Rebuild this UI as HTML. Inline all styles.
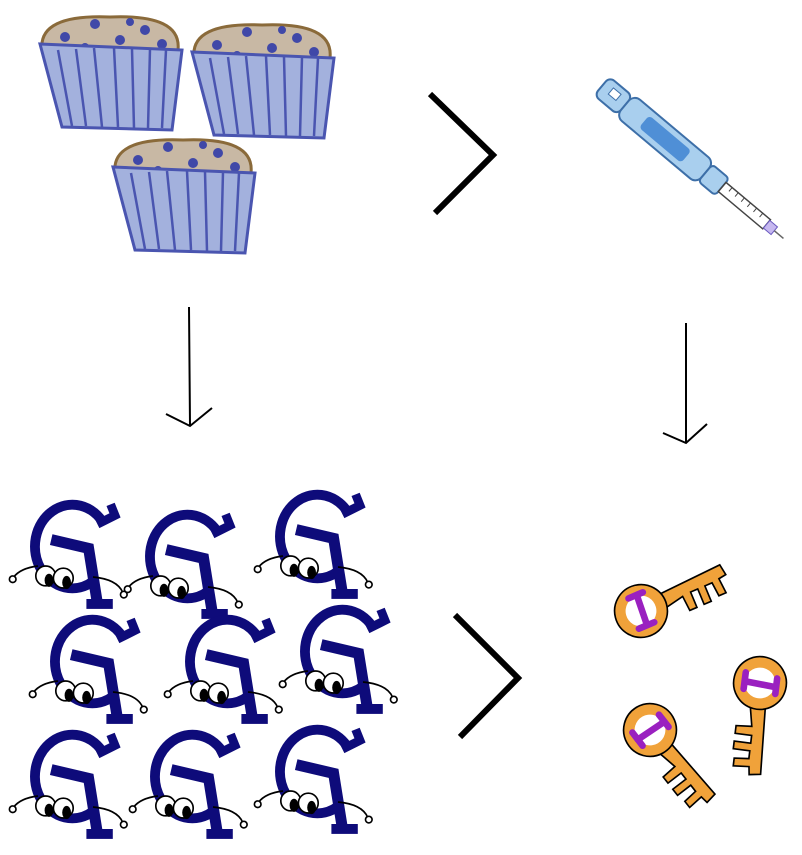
<!DOCTYPE html><html><head><style>body{margin:0;background:#fff}svg{display:block}</style></head><body>
<svg width="802" height="855" viewBox="0 0 802 855" xmlns="http://www.w3.org/2000/svg">
<defs>
<g id="muf">
<path d="M-68,-22 Q-72,-58 0,-55 Q72,-58 68,-22 Z" fill="#c8b8a4" stroke="#8a6a3a" stroke-width="3"/>
<circle cx="-45" cy="-35" r="5" fill="#4048a8"/><circle cx="-15" cy="-48" r="5" fill="#4048a8"/><circle cx="10" cy="-32" r="5" fill="#4048a8"/><circle cx="35" cy="-42" r="5" fill="#4048a8"/><circle cx="52" cy="-28" r="5" fill="#4048a8"/><circle cx="-25" cy="-25" r="4" fill="#4048a8"/><circle cx="20" cy="-50" r="4" fill="#4048a8"/>
<path d="M-70,-28 L72,-22 L62,58 L-48,55 Z" fill="#a3b1dd" stroke="#4a55b0" stroke-width="3"/>
<path d="M-52,-22 L-38,54 M-34,-23 L-24,54 M-16,-24 L-8,55 M4,-24 L8,55 M22,-23 L24,56 M40,-23 L38,56 M56,-22 L52,56" stroke="#4a55b0" stroke-width="2.5" fill="none"/>
</g>
<g id="G" transform="scale(1.1)">
<path d="M40,-28 A34 38 0 1 0 30 24" fill="none" stroke="#0e0b7a" stroke-width="9"/>
<path d="M34,-28 L50,-36 L46,-46" fill="none" stroke="#0e0b7a" stroke-width="8"/>
<path d="M-8,-14 L26,-6 L34,44" fill="none" stroke="#0e0b7a" stroke-width="10"/>
<rect x="24" y="40" width="24" height="9" fill="#0e0b7a"/>
<path d="M-20,10 Q-36,12 -42,20 M30,20 Q52,22 57,34" fill="none" stroke="#000" stroke-width="1.5"/>
<circle cx="-43" cy="22" r="3" fill="#fff" stroke="#000" stroke-width="1.5"/><circle cx="58" cy="36" r="3" fill="#fff" stroke="#000" stroke-width="1.5"/>
<ellipse cx="-13" cy="19" rx="9" ry="9" fill="#fff" stroke="#000" stroke-width="1.5"/><ellipse cx="3" cy="21" rx="9" ry="9" fill="#fff" stroke="#000" stroke-width="1.5"/>
<ellipse cx="-10" cy="23" rx="4" ry="6" fill="#000"/><ellipse cx="6" cy="25" rx="4" ry="6" fill="#000"/>
</g>
<g id="key" transform="scale(1.1)">
<path d="M18,-10 L80,-22 L83,-12 L76,-10 L79,4 L72,5 L69,-8 L62,-7 L64,8 L57,9 L55,-6 L48,-5 L50,10 L43,11 L40,-3 L20,4 Z" fill="#f0a23a" stroke="#000" stroke-width="1.5"/>
<circle r="24" fill="#f0a23a" stroke="#000" stroke-width="1.5"/>
<circle r="14" fill="#fff"/>
<path d="M-8,-14 L6,-16 M0,-15 L2,14 M-6,15 L9,13" stroke="#9a20c0" stroke-width="6" stroke-linecap="round" fill="none"/>
</g>
</defs>
<use href="#muf" x="110" y="72"/><use href="#muf" x="262" y="80"/><use href="#muf" x="183" y="195"/>
<path d="M430,94 L493,155 L435,213" fill="none" stroke="#000" stroke-width="6"/>
<path d="M455,615 L518,678 L460,737" fill="none" stroke="#000" stroke-width="6"/>
<path d="M189,307 L190,425 M166,414 L190,426 L212,408" fill="none" stroke="#000" stroke-width="2"/>
<path d="M686,323 L686,442 M663,433 L686,443 L707,424" fill="none" stroke="#000" stroke-width="2"/>
<g transform="translate(690,160) rotate(40)">
<rect x="-115" y="-12" width="30" height="24" rx="6" fill="#a9cfee" stroke="#3d6fa8" stroke-width="2"/>
<rect x="-105" y="-6" width="10" height="8" fill="#fff" stroke="#3d6fa8"/>
<rect x="-85" y="-14" width="105" height="28" rx="8" fill="#a9cfee" stroke="#3d6fa8" stroke-width="2"/>
<rect x="-60" y="-8" width="55" height="16" rx="4" fill="#4f8fd6"/>
<rect x="20" y="-11" width="22" height="22" rx="4" fill="#a9cfee" stroke="#3d6fa8" stroke-width="2"/>
<rect x="42" y="-6" width="58" height="12" fill="#fff" stroke="#444" stroke-width="1.5"/>
<path d="M50,-6v5M58,-6v5M66,-6v5M74,-6v5M82,-6v5M90,-6v5" stroke="#444"/>
<rect x="100" y="-5" width="10" height="10" fill="#c6b8f0" stroke="#6a5ac0"/>
<path d="M110,0 L122,0" stroke="#666" stroke-width="1.5"/>
</g>
<use href="#G" x="60" y="555"/><use href="#G" x="175" y="565"/><use href="#G" x="305" y="545"/>
<use href="#G" x="80" y="670"/><use href="#G" x="215" y="670"/><use href="#G" x="330" y="660"/>
<use href="#G" x="60" y="785"/><use href="#G" x="180" y="785"/><use href="#G" x="305" y="780"/>
<use href="#key" transform="translate(641,611) rotate(-15)"/>
<use href="#key" transform="translate(760,683) rotate(105)"/>
<use href="#key" transform="translate(650,730) rotate(60)"/>
</svg>
</body></html>
